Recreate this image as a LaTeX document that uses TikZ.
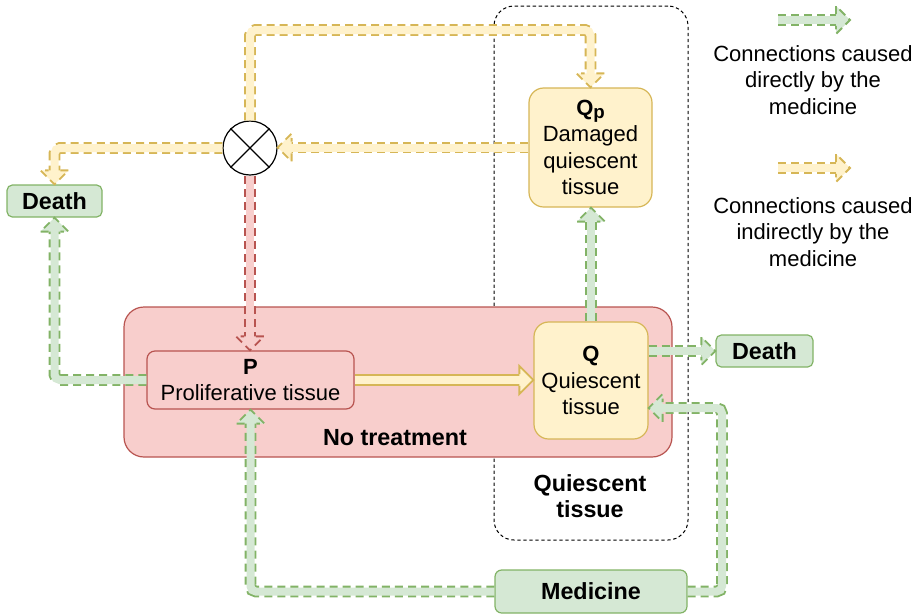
\documentclass[tikz,border=0pt]{standalone}
\usepackage{fontspec}
\setmainfont{Liberation Sans}
\usetikzlibrary{calc,decorations.markings}
\definecolor{gstroke}{HTML}{82B366}
\definecolor{gfill}{HTML}{D5E8D4}
\definecolor{ystroke}{HTML}{D6B656}
\definecolor{yfill}{HTML}{FFF2CC}
\definecolor{rstroke}{HTML}{B85450}
\definecolor{rfill}{HTML}{F8CECC}

\tikzset{
  flow/.style n args={3}{line width=6pt, draw=#2, rounded corners=4pt, shorten >=10pt,
    preaction={draw=#1, line width=8.8pt, #3},
    postaction={decorate, decoration={markings, mark=at position 1 with {
      \fill[#2, sharp corners] (-10.5pt,10.5pt) -- (0pt,0pt) -- (-10.5pt,-10.5pt) -- cycle;
      \draw[#1, line width=1.4pt, sharp corners, shorten >=0pt, #3]
        (-10.5pt,4.4pt) -- (-10.5pt,10.5pt) -- (0pt,0pt) -- (-10.5pt,-10.5pt) -- (-10.5pt,-4.4pt);}}}},
  gflow/.style={flow={gstroke}{gfill}{dash pattern=on 6pt off 3.8pt}},
  yflow/.style={flow={ystroke}{yfill}{dash pattern=on 6pt off 3.8pt}},
  rflow/.style={flow={rstroke}{rfill}{dash pattern=on 6pt off 3.8pt}},
  ysolid/.style={flow={ystroke}{yfill}{solid}},
  tissue/.style={draw, line width=0.9pt, align=center, inner sep=0pt},
  label/.style={font=\fontsize{17.5}{20}\selectfont\bfseries, align=center}
}

\begin{document}
\begin{tikzpicture}[x=0.75pt, y=-0.75pt, font=\fontsize{16.5}{19.9}\selectfont]
  \useasboundingbox (0,0) rectangle (924,615);

  % containers
  \node[draw, line width=0.75pt, dash pattern=on 2.5pt off 2pt, rounded corners=15pt,
        minimum width=145.5pt, minimum height=400.5pt] (qbox) at (591,273) {};
  \node[draw=rstroke, fill=rfill, line width=0.9pt, rounded corners=15pt,
        minimum width=411pt, minimum height=112.5pt] (ntbox) at (398,382) {};
  \node[label] (ntlabel) at (395,438) {No treatment};
  \node[label] (qlabel) at (590,496) {Quiescent\\tissue};

  % tissues
  \node[tissue, draw=rstroke, fill=rfill, rounded corners=6pt, minimum width=155.25pt,
        minimum height=43.5pt] (P) at (250.5,380) {\textbf{P}\\Proliferative tissue};
  \node[tissue, draw=ystroke, fill=yfill, rounded corners=11pt, minimum width=85.5pt,
        minimum height=87.75pt] (Q) at (591,380.5) {\textbf{Q}\\Quiescent\\tissue};
  \node[tissue, draw=ystroke, fill=yfill, rounded corners=11pt, minimum width=92.25pt,
        minimum height=89.25pt] (Qp) at (590.5,147.5) {\textbf{Q\raisebox{-0.3ex}{\fontsize{14}{14}\selectfont p}}\\Damaged\\quiescent\\tissue};

  \node[tissue, label, draw=gstroke, fill=gfill, rounded corners=4pt, minimum width=71.25pt,
        minimum height=24pt] (deathL) at (54.5,201) {Death};
  \node[tissue, label, draw=gstroke, fill=gfill, rounded corners=4pt, minimum width=72.75pt,
        minimum height=24pt] (deathR) at (764.5,351) {Death};
  \node[tissue, label, draw=gstroke, fill=gfill, rounded corners=5pt, minimum width=144pt,
        minimum height=32.25pt] (med) at (591,591.5) {Medicine};

  \node[circle, draw, fill=white, line width=0.9pt, minimum size=40.5pt, inner sep=0pt] (sum) at (250,148) {};
  \draw[line width=0.9pt] (sum.north west) -- (sum.south east) (sum.north east) -- (sum.south west);

  % connections
  \coordinate (top) at (420,30);
  \coordinate (rturn) at (722,408);
  \draw[ysolid] (P.east) -- (P.east -| Q.west);
  \draw[rflow] (sum.south) -- (sum.south |- P.north);
  \draw[yflow] (Qp.west) -- (Qp.west -| sum.east);
  \draw[yflow] (sum.west) -| (deathL.north);
  \draw[yflow] (sum.north) |- (top) -| (Qp.north);
  \draw[gflow] (P.west) -| (deathL.south);
  \draw[gflow] (Q.north) -- (Q.north |- Qp.south);
  \draw[gflow] (Q.east |- deathR.west) -- (deathR.west);
  \draw[gflow] (med.west) -| (P.south);
  \draw[gflow] (med.east) -| (rturn) -- (rturn -| Q.east);

  % legend
  \coordinate (lga) at (778,20);
  \coordinate (lgb) at (850,20);
  \coordinate (lgc) at (778,168);
  \coordinate (lgd) at (850,168);
  \draw[gflow] (lga) -- (lgb);
  \draw[yflow] (lgc) -- (lgd);
  \node[align=center] (lgtext1) at (813,80) {Connections caused\\directly by the\\medicine};
  \node[align=center] (lgtext2) at (813,232) {Connections caused\\indirectly by the\\medicine};
\end{tikzpicture}
\end{document}
